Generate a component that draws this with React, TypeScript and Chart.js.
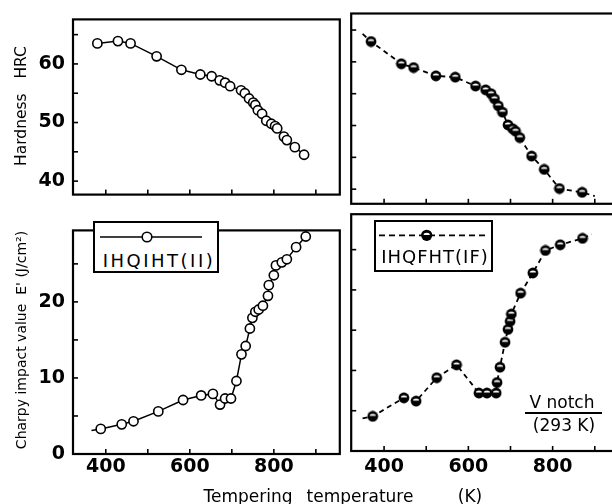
import React, { useEffect, useRef } from 'react';
import { Chart, registerables } from 'chart.js';

Chart.register(...registerables);

const FONT = '"DejaVu Sans", sans-serif';

// ---------- data ----------
// IHQIHT (II) : hardness
const ihHardT = [380, 429, 459, 521, 580, 625, 652, 671, 684, 696, 722, 731, 741, 751, 756, 762, 772, 782, 794, 803, 808, 824, 831, 850, 872];
const ihHardV = [63.5, 63.9, 63.5, 61.3, 59.0, 58.2, 57.9, 57.2, 56.8, 56.2, 55.5, 55.0, 54.1, 53.4, 53.0, 52.1, 51.5, 50.3, 49.8, 49.4, 49.0, 47.6, 47.0, 45.8, 44.5];
const ihHardStart = [370, 63.5];

// IHQFHT (IF) : hardness
const ifHardT = [369, 441, 470, 523, 569, 617, 641, 654, 662, 671, 681, 694, 705, 712, 722, 750, 780, 816, 870];
const ifHardV = [63.2, 59.7, 59.1, 57.8, 57.6, 56.2, 55.6, 55.0, 54.2, 53.1, 52.1, 50.1, 49.5, 49.1, 48.1, 45.2, 43.1, 40.1, 39.5];
const ifHardStart = [349, 64.4];
const ifHardEnd = [900, 38.9];

// IHQIHT (II) : Charpy impact value
const ihCharpyT = [388, 438, 466, 525, 584, 627, 655, 672, 684, 698, 711, 723, 733, 743, 749, 756, 764, 774, 786, 788, 800, 805, 819, 831, 853, 876];
const ihCharpyV = [3.3, 3.9, 4.3, 5.6, 7.1, 7.7, 7.9, 6.5, 7.3, 7.3, 9.6, 13.1, 14.2, 16.5, 17.9, 18.7, 19.0, 19.5, 20.8, 22.2, 23.5, 24.8, 25.2, 25.6, 27.2, 28.6];
const ihCharpyStart = [366, 3.1];

// IHQFHT (IF) : Charpy impact value
const ifCharpyT = [373, 447, 476, 525, 572, 625, 644, 666, 668, 675, 687, 694, 699, 702, 724, 753, 783, 818, 871];
const ifCharpyV = [4.3, 6.6, 6.2, 9.1, 10.7, 7.2, 7.2, 7.2, 8.5, 10.4, 13.5, 15.1, 16.1, 17.0, 19.6, 22.1, 24.9, 25.6, 26.4];
const ifCharpyStart = [349, 4.05];
const ifCharpyEnd = [893, 26.9];

// ticks / ranges
const xTickValues = [400, 500, 600, 700, 800, 900];
const xLabelValues = [400, 600, 800];
const hardTickValues = [40, 45, 50, 55, 60, 65];
const hardLabelValues = [40, 50, 60];
const charpyTickValues = [0, 5, 10, 15, 20, 25];
const charpyLabelValues = [0, 10, 20];
const xRange = [322, 957];
const hardRange = [37.7, 67.6];
const charpyRange = [0, 29.4];

// ---------- helpers ----------
function halfMarker(): HTMLCanvasElement {
  const c = document.createElement('canvas');
  c.width = 12;
  c.height = 12;
  const g = c.getContext('2d')!;
  g.fillStyle = '#000';
  g.beginPath();
  g.arc(6, 6, 5.4, 0, Math.PI * 2);
  g.fill();
  g.fillStyle = '#fff';
  g.beginPath();
  g.ellipse(6, 5.4, 3.1, 2.0, 0, Math.PI, Math.PI * 2);
  g.closePath();
  g.fill();
  return c;
}

function pts(xs: number[], ys: number[]) {
  return xs.map((x, i) => ({ x, y: ys[i] }));
}

function series(xs: number[], ys: number[], start: number[] | null, end: number[] | null, filled: boolean) {
  const data = pts(xs, ys);
  const curve = [
    ...(start ? [{ x: start[0], y: start[1] }] : []),
    ...data,
    ...(end ? [{ x: end[0], y: end[1] }] : []),
  ];
  const marker = filled ? halfMarker() : 'circle';
  return [
    {
      data,
      showLine: false,
      pointStyle: marker,
      pointRadius: 4.6,
      pointBorderWidth: 1.6,
      pointBackgroundColor: '#fff',
      pointBorderColor: '#000',
    },
    {
      data: curve,
      showLine: true,
      pointRadius: 0,
      borderColor: '#000',
      borderWidth: filled ? 1.8 : 1.5,
      borderDash: filled ? [5, 4] : [],
      tension: 0,
    },
  ];
}

const framePlugin = {
  id: 'frame',
  afterDraw(chart: any, _args: any, opts: any) {
    const { ctx, chartArea: a, scales } = chart;
    ctx.save();
    ctx.strokeStyle = '#000';
    ctx.lineWidth = 1.6;
    for (const v of opts.xTicks) {
      const x = scales.x.getPixelForValue(v);
      ctx.beginPath();
      ctx.moveTo(x, a.bottom);
      ctx.lineTo(x, a.bottom - 5);
      ctx.stroke();
    }
    for (const v of opts.yTicks) {
      const y = scales.y.getPixelForValue(v);
      ctx.beginPath();
      ctx.moveTo(a.left, y);
      ctx.lineTo(a.left + 5, y);
      ctx.stroke();
    }
    ctx.lineWidth = 2.2;
    ctx.strokeRect(a.left, a.top, a.right - a.left, a.bottom - a.top);
    ctx.restore();
  },
};

type PanelProps = {
  left: number;
  top: number;
  width: number;
  height: number;
  padding: { top: number; right: number; bottom: number; left: number };
  yRange: number[];
  yTicks: number[];
  yLabels: number[] | null;
  showX: boolean;
  xAxisHeight: number;
  xPad: number;
  datasets: any[];
};

const tickFont = { family: FONT, size: 19, weight: 'bold' as const };

function Panel(p: PanelProps) {
  const ref = useRef<HTMLCanvasElement>(null);
  useEffect(() => {
    const chart = new Chart(ref.current!, {
      type: 'scatter',
      data: { datasets: p.datasets },
      plugins: [framePlugin],
      options: {
        animation: false,
        responsive: false,
        devicePixelRatio: 1,
        layout: { padding: p.padding },
        plugins: {
          legend: { display: false },
          tooltip: { enabled: false },
          frame: { xTicks: xTickValues, yTicks: p.yTicks },
        } as any,
        scales: {
          x: {
            type: 'linear',
            min: xRange[0],
            max: xRange[1],
            display: p.showX,
            afterFit: (s: any) => {
              s.height = p.xAxisHeight;
            },
            grid: { display: false, drawTicks: false },
            border: { display: false },
            ticks: {
              stepSize: 100,
              includeBounds: false,
              autoSkip: false,
              maxRotation: 0,
              padding: p.xPad,
              color: '#000',
              font: tickFont,
              callback: (v: any) => (xLabelValues.includes(Math.round(v)) ? String(Math.round(v)) : ''),
            },
          },
          y: {
            type: 'linear',
            min: p.yRange[0],
            max: p.yRange[1],
            display: !!p.yLabels,
            afterFit: (s: any) => {
              s.width = p.padding.left === 0 ? 73 : 0;
            },
            grid: { display: false, drawTicks: false },
            border: { display: false },
            ticks: {
              stepSize: 5,
              includeBounds: false,
              autoSkip: false,
              padding: 8,
              color: '#000',
              font: tickFont,
              callback: (v: any) =>
                p.yLabels && p.yLabels.includes(Math.round(v)) ? String(Math.round(v)) : '',
            },
          },
        },
      } as any,
    });
    return () => chart.destroy();
  }, []);
  return (
    <canvas
      ref={ref}
      width={p.width}
      height={p.height}
      style={{ position: 'absolute', left: p.left, top: p.top, width: p.width, height: p.height }}
    />
  );
}

const textBase: React.CSSProperties = {
  position: 'absolute',
  fontFamily: FONT,
  color: '#000',
  whiteSpace: 'pre',
};

function VTitle({ cx, cy, size, text }: { cx: number; cy: number; size: number; text: string }) {
  return (
    <div
      style={{
        ...textBase,
        left: cx,
        top: cy,
        fontSize: size,
        lineHeight: `${size + 2}px`,
        transform: 'translate(-50%, -50%) rotate(-90deg)',
      }}
    >
      {text}
    </div>
  );
}

function CText({ cx, cy, size, text, spacing = 0, bold = false }: { cx: number; cy: number; size: number; text: string; spacing?: number; bold?: boolean }) {
  return (
    <div
      style={{
        ...textBase,
        left: cx,
        top: cy,
        fontSize: size,
        fontWeight: bold ? 'bold' : 'normal',
        lineHeight: `${size}px`,
        letterSpacing: spacing,
        transform: 'translate(-50%, -50%)',
      }}
    >
      {text}
    </div>
  );
}

export default function App() {
  return (
    <div
      style={{
        position: 'fixed',
        left: 0,
        top: 0,
        width: 612,
        height: 504,
        overflow: 'hidden',
        background: '#fff',
      }}
    >
      {/* top-left: hardness IHQIHT */}
      <Panel
        left={0}
        top={0}
        width={346}
        height={214}
        padding={{ top: 17, right: 3, bottom: 4, left: 0 }}
        yRange={hardRange}
        yTicks={hardTickValues}
        yLabels={hardLabelValues}
        showX={false}
        xAxisHeight={0}
        xPad={0}
        datasets={series(ihHardT, ihHardV, ihHardStart, null, false)}
      />
      {/* top-right: hardness IHQFHT */}
      <Panel
        left={345}
        top={0}
        width={280}
        height={210}
        padding={{ top: 13.5, right: 5.5, bottom: 3.3, left: 4.5 }}
        yRange={hardRange}
        yTicks={hardTickValues}
        yLabels={null}
        showX={false}
        xAxisHeight={0}
        xPad={0}
        datasets={series(ifHardT, ifHardV, ifHardStart, ifHardEnd, true)}
      />
      {/* bottom-left: Charpy IHQIHT */}
      <Panel
        left={0}
        top={211}
        width={346}
        height={293}
        padding={{ top: 4, right: 3, bottom: 0, left: 0 }}
        yRange={charpyRange}
        yTicks={charpyTickValues}
        yLabels={charpyLabelValues}
        showX={true}
        xAxisHeight={50}
        xPad={2}
        datasets={series(ihCharpyT, ihCharpyV, ihCharpyStart, null, false)}
      />
      {/* bottom-right: Charpy IHQFHT */}
      <Panel
        left={345}
        top={208}
        width={280}
        height={296}
        padding={{ top: 4, right: 5.5, bottom: 0, left: 4.5 }}
        yRange={charpyRange}
        yTicks={charpyTickValues}
        yLabels={null}
        showX={true}
        xAxisHeight={53}
        xPad={5}
        datasets={series(ifCharpyT, ifCharpyV, ifCharpyStart, ifCharpyEnd, true)}
      />

      {/* axis titles */}
      <VTitle cx={22} cy={106} size={15.5} text={'Hardness   HRC'} />
      <VTitle cx={21} cy={340} size={14} text={"Charpy impact value  E' (J/cm²)"} />
      <CText cx={248} cy={496} size={17} text="Tempering" />
      <CText cx={360} cy={496} size={17} text="temperature" />
      <CText cx={470} cy={496} size={17} text="(K)" />

      {/* legend IHQIHT */}
      <div
        style={{
          position: 'absolute',
          left: 93,
          top: 221,
          width: 126,
          height: 52,
          border: '2px solid #000',
          boxSizing: 'border-box',
          background: '#fff',
        }}
      >
        <svg width={122} height={48} style={{ position: 'absolute', left: 0, top: 0 }}>
          <line x1={5} y1={14} x2={107} y2={14} stroke="#000" strokeWidth={1.5} />
          <circle cx={52} cy={14} r={4.8} fill="#fff" stroke="#000" strokeWidth={1.6} />
        </svg>
      </div>
      <CText cx={159} cy={260.5} size={18} spacing={2.5} text="IHQIHT(II)" />

      {/* legend IHQFHT */}
      <div
        style={{
          position: 'absolute',
          left: 374,
          top: 220,
          width: 119,
          height: 52,
          border: '2px solid #000',
          boxSizing: 'border-box',
          background: '#fff',
        }}
      >
        <svg width={115} height={48} style={{ position: 'absolute', left: 0, top: 0 }}>
          <line x1={3} y1={13.3} x2={113} y2={13.3} stroke="#000" strokeWidth={1.8} strokeDasharray="6 4" />
          <circle cx={50.7} cy={13.3} r={5.6} fill="#000" />
          <path d="M 47.6 12.9 A 3.1 2.1 0 0 1 53.8 12.9 Z" fill="#fff" />
        </svg>
      </div>
      <CText cx={435} cy={257} size={18} spacing={1} text="IHQFHT(IF)" />

      {/* V notch note */}
      <CText cx={562} cy={402} size={17} text="V notch" />
      <div style={{ position: 'absolute', left: 525, top: 412.3, width: 77, height: 2, background: '#000' }} />
      <CText cx={564} cy={425} size={17} text="(293 K)" />
    </div>
  );
}
